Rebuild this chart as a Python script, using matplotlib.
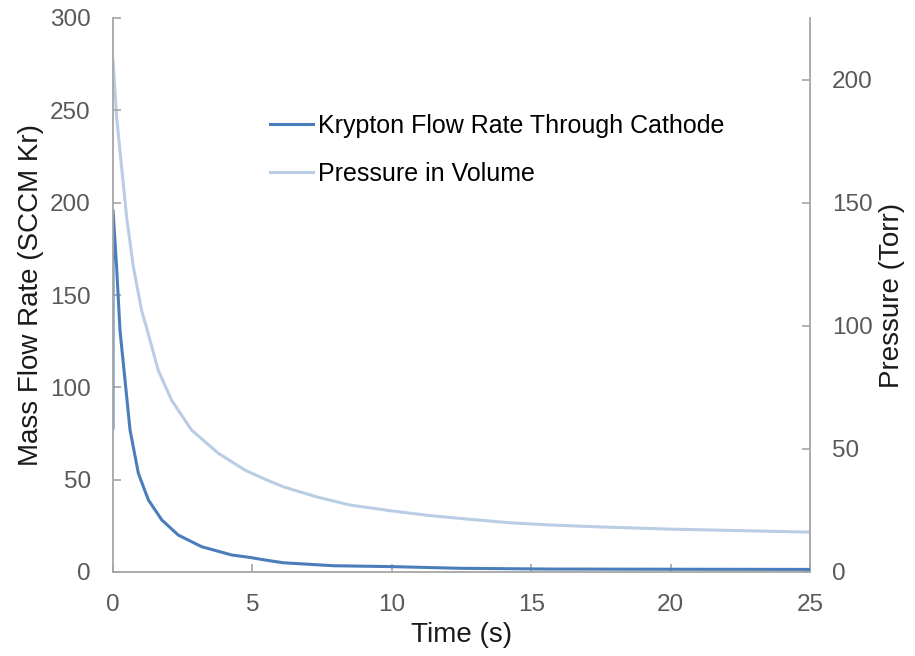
import matplotlib
matplotlib.use("Agg")
import matplotlib.pyplot as plt

plt.rcParams['font.family'] = ['Liberation Sans', 'DejaVu Sans']

# Krypton flow rate (left axis, SCCM Kr)
t_kr = [0, 0, 0.13, 0.25, 0.43, 0.61, 0.91, 1.27, 1.75, 2.34, 3.18, 4.26, 4.91,
        5.45, 6.11, 7.9, 10.05, 12.45, 15.67, 20, 25]
flow_kr = [78, 196, 165, 131, 104, 77, 53.4, 39, 28.2, 20, 13.7, 9.2, 7.9,
           6.5, 5.0, 3.4, 2.9, 2.0, 1.6, 1.5, 1.4]

# Pressure in volume (right axis, Torr)
t_p = [0, 0.13, 0.31, 0.49, 0.73, 1.03, 1.21, 1.62, 2.1, 2.82, 3.78, 4.73, 5.45,
       6.11, 7.31, 8.5, 9.94, 11.37, 12.8, 14.24, 15.67, 17.5, 20, 22.5, 25]
pressure = [208, 184.7, 164.4, 144, 123.9, 106, 99, 82, 69.8, 57.6, 48.2, 41.4, 37.7,
            34.6, 30.5, 27.2, 24.9, 22.9, 21.4, 20.0, 19.1, 18.3, 17.4, 16.8, 16.2]

x_ticks = [0, 5, 10, 15, 20, 25]
left_ticks = [0, 50, 100, 150, 200, 250, 300]
right_ticks = [0, 50, 100, 150, 200]

dark = '#4a7ebb'
light = '#b9cde5'
grey = '#a6a6a6'
tick_txt = '#595959'

fig = plt.figure(figsize=(9.15, 6.56), dpi=100)
ax = fig.add_axes([113/915, 84/656, 697/915, 554/656])
ax2 = ax.twinx()

l1, = ax.plot(t_kr, flow_kr, color=dark, lw=2.2, label='Krypton Flow Rate Through Cathode',
              solid_joinstyle='round')
l2, = ax2.plot(t_p, pressure, color=light, lw=2.2, label='Pressure in Volume',
               solid_joinstyle='round')

ax.set_xlim(0, 25)
ax.set_ylim(0, 300)
ax2.set_ylim(0, 225)
ax.set_xticks(x_ticks)
ax.set_yticks(left_ticks)
ax2.set_yticks(right_ticks)

for a in (ax, ax2):
    a.spines['top'].set_visible(False)
    for s in ('left', 'right', 'bottom'):
        a.spines[s].set_color(grey)
        a.spines[s].set_linewidth(1.3)
    a.tick_params(direction='in', length=6, width=1.2, color=grey,
                  labelsize=17.5, labelcolor=tick_txt, pad=16)
ax.spines['right'].set_visible(False)
ax2.spines['left'].set_visible(False)
ax2.spines['bottom'].set_visible(False)
ax.tick_params(axis='x', pad=16)

ax.set_xlabel('Time (s)', fontsize=20, color='#1a1a1a', labelpad=4)
ax.set_ylabel('Mass Flow Rate (SCCM Kr)', fontsize=20, color='#1a1a1a', labelpad=4)
ax2.set_ylabel('Pressure (Torr)', fontsize=20, color='#1a1a1a', labelpad=4)

ax.set_zorder(ax2.get_zorder() + 1)
ax.patch.set_visible(False)

leg = fig.legend([l1, l2], [l1.get_label(), l2.get_label()],
                 loc='upper left', bbox_to_anchor=(270/915, 1 - 114/656),
                 frameon=False, fontsize=18, handlelength=1.72, handletextpad=0.2,
                 labelspacing=0.95, borderpad=0, borderaxespad=0)

fig.savefig('out.png', dpi=100)
